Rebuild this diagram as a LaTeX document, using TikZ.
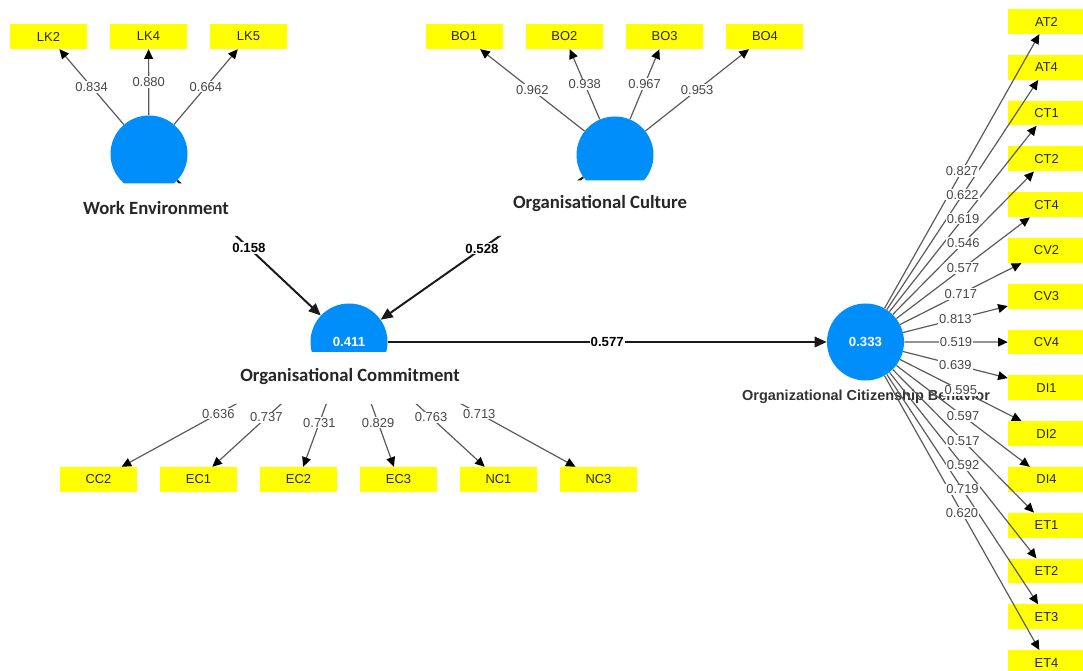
\documentclass[tikz,border=0pt]{standalone}
\usepackage{fontspec}
\setmainfont{Liberation Sans}
\newfontfamily\calibri{Carlito}
\usetikzlibrary{arrows.meta}

\definecolor{plsblue}{RGB}{0,143,250}
\definecolor{plsyellow}{RGB}{255,255,0}
\definecolor{linegray}{RGB}{90,90,90}
\definecolor{loadgray}{RGB}{70,70,70}

\begin{document}
\begin{tikzpicture}[
      lv/.style  ={circle, fill=plsblue, minimum size=19.25mm, inner sep=0pt, text=white,
                   font=\fontsize{9.4}{11}\selectfont\bfseries},
      ind/.style ={fill=plsyellow, minimum width=19.25mm, minimum height=6.2mm, inner sep=0pt,
                   text=black!85, font=\fontsize{9.2}{11}\selectfont},
      load/.style={draw=linegray, line width=0.85pt, ->},
      coef/.style={draw=black!90, line width=1.4pt, -{Triangle[length=3mm, width=2.6mm]}},
      lbl/.style ={fill=white, inner sep=0.8pt, text=loadgray, font=\fontsize{9.2}{11}\selectfont},
      clbl/.style={fill=white, inner sep=0.8pt, font=\fontsize{9.4}{11}\selectfont\bfseries},
      ttl/.style ={text=black!85, font=\calibri\fontsize{13.3}{15}\selectfont\bfseries},
      >={Triangle[length=2.4mm, width=2.2mm, color=black]}
    ]
    \useasboundingbox (0,0) rectangle (27.075,16.775);
    \clip (0,0) rectangle (27.075,16.775);

    % indicator boxes
    \foreach \n [count=\k from 0] in {LK2,LK4,LK5}
      \node[ind] (\n) at (1.2125+2.5*\k,15.8625) {\n};
    \foreach \n [count=\k from 0] in {BO1,BO2,BO3,BO4}
      \node[ind] (\n) at (11.6+2.508*\k,15.8625) {\n};
    \foreach \n [count=\k from 0] in {CC2,EC1,EC2,EC3,NC1,NC3}
      \node[ind] (\n) at (2.4625+2.5*\k,4.7875) {\n};
    \foreach \n [count=\k from 0] in {AT2,AT4,CT1,CT2,CT4,CV2,CV3,CV4,DI1,DI2,DI4,ET1,ET2,ET3,ET4}
      \node[ind] (\n) at (26.1625,16.2375-1.145*\k) {\n};

    % latent variables and paths (strips of the screenshot are cut away)
    \begin{scope}[even odd rule]
      \clip (0,0) rectangle (27.075,16.775)
            (0,10.875) rectangle (10,12.1875)
            (10,10.875) rectangle (20,12.2625)
            (0,6.675) rectangle (18,7.975);
      \node[lv] (we)  at (3.725,12.925) {};
      \node[lv] (oc)  at (15.375,12.9)  {};
      \node[lv] (cm)  at (8.725,8.225)  {0.411};

      \foreach \n/\v in {LK2/0.834, LK4/0.880, LK5/0.664}
        \draw[load] (we) -- node[lbl] {\v} (\n);
      \foreach \n/\v in {BO1/0.962, BO2/0.938, BO3/0.967, BO4/0.953}
        \draw[load] (oc) -- node[lbl] {\v} (\n);
      \foreach \n/\v in {CC2/0.636, EC1/0.737, EC2/0.731, EC3/0.829, NC1/0.763, NC3/0.713}
        \draw[load] (cm) -- node[lbl] {\v} (\n);

      \draw[coef] (we) -- node[clbl] {0.158} (cm);
      \draw[coef] (oc) -- node[clbl] {0.528} (cm);
    \end{scope}

    \node[ttl] at (3.9,11.575)  {Work Environment};
    \node[ttl] at (15.0,11.675) {Organisational Culture};
    \node[ttl] at (8.75,7.35)   {Organisational Commitment};

    \node[lv] (ocb) at (21.6375,8.225) {0.333};
    \node[text=black!80, font=\fontsize{10.3}{12}\selectfont\bfseries] (ocbt) at (21.65,6.85)
      {Organizational Citizenship Behavior};

    \draw[coef] (cm) -- node[clbl] {0.577} (ocb);

    % fan of loadings, labels on top of all lines
    \foreach \n in {AT2,AT4,CT1,CT2,CT4,CV2,CV3,CV4,DI1,DI2,DI4,ET1,ET2,ET3,ET4}
      \draw[load] (ocb) -- (\n);
    \foreach \n/\v in {AT2/0.827, AT4/0.622, CT1/0.619, CT2/0.546, CT4/0.577,
                       CV2/0.717, CV3/0.813, CV4/0.519, DI1/0.639, DI2/0.595,
                       DI4/0.597, ET1/0.517, ET2/0.592, ET3/0.719, ET4/0.620}
      \path (ocb) -- node[lbl] {\v} (\n);
  \end{tikzpicture}
\end{document}
